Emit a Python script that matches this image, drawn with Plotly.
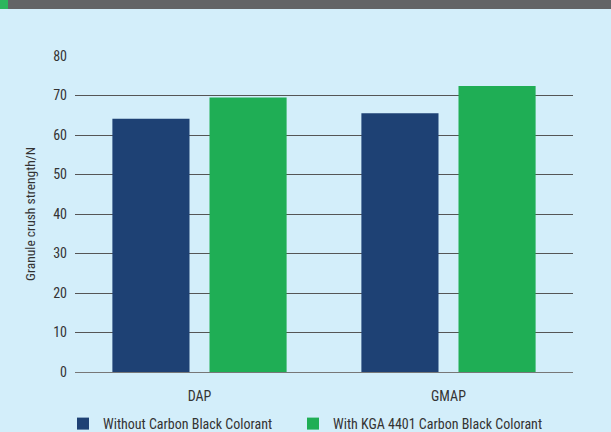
import plotly.graph_objects as go

categories = ["DAP", "GMAP"]
without_cb = [64.1, 65.5]
with_kga = [69.5, 72.4]
series_names = ["Without Carbon Black Colorant", "With KGA 4401 Carbon Black Colorant"]
y_title = "Granule crush strength/N"

BG = "#D3EEFA"
FONT = "Liberation Sans Narrow, Arial Narrow, Roboto Condensed, sans-serif"

fig = go.Figure()
fig.add_trace(go.Bar(x=categories, y=without_cb, name=series_names[0], legend="legend",
                     marker=dict(color="#1E4174", line=dict(width=0))))
fig.add_trace(go.Bar(x=categories, y=with_kga, name=series_names[1], legend="legend2",
                     marker=dict(color="#1FAE55", line=dict(width=0))))

L, R, T, B = 75, 38, 56, 60
H = 432 - T - B
W = 611 - L - R
leg_common = dict(orientation="h", xanchor="left", y=-52 / H, yanchor="middle",
                  font=dict(size=14, color="#333333"), bgcolor="rgba(0,0,0,0)",
                  itemwidth=30)
fig.update_layout(
    width=611, height=432,
    margin=dict(l=L, r=R, t=T, b=B, pad=0, autoexpand=False),
    paper_bgcolor=BG, plot_bgcolor=BG,
    font=dict(family=FONT, size=14, color="#333333"),
    barmode="group", bargap=0.22, bargroupgap=0.206,
    showlegend=True,
    legend=dict(x=-12 / W, **leg_common),
    legend2=dict(x=218 / W, **leg_common),
    xaxis=dict(showgrid=False, showline=False, ticks="", zeroline=False,
               ticklabelstandoff=14,
               tickfont=dict(size=14, color="#333333")),
    yaxis=dict(range=[0, 80], dtick=10, showgrid=True, gridcolor="#555555", gridwidth=1,
               zeroline=True, zerolinecolor="#777777", zerolinewidth=1,
               showline=False, ticks="", ticklabelstandoff=7,
               tickfont=dict(size=14, color="#333333"),
               title=dict(text=y_title, font=dict(size=13.5, color="#333333"), standoff=14)),
    shapes=[
        dict(type="rect", xref="paper", yref="paper", x0=-L / W, x1=1 + R / W,
             y0=1 + (T - 9) / H, y1=1 + T / H + 0.01, fillcolor="#636466", line=dict(width=0),
             layer="above"),
        dict(type="rect", xref="paper", yref="paper", x0=-L / W, x1=(8 - L) / W,
             y0=1 + (T - 9) / H, y1=1 + T / H + 0.01, fillcolor="#2DB55D", line=dict(width=0),
             layer="above"),
    ],
)

fig.write_html("out.html")
